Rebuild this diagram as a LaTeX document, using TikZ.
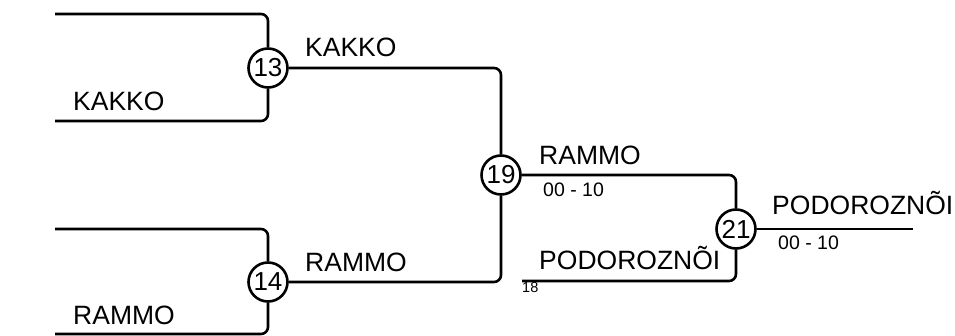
\documentclass[tikz,border=0pt]{standalone}
\usepackage{fontspec}
\setmainfont{Liberation Sans}
\usetikzlibrary{positioning}

\begin{document}
\begin{tikzpicture}[x=1pt, y=-1pt,
    m/.style={circle, draw, line width=2.6pt, inner sep=0pt,
              minimum size=39pt, font=\fontsize{26}{26}\selectfont},
    wire/.style={line width=2.6pt, rounded corners=7pt},
    team/.style={anchor=base west, inner sep=0pt, font=\fontsize{26.5}{27}\selectfont},
    score/.style={anchor=base west, inner sep=0pt, font=\fontsize{19.5}{20}\selectfont}
  ]
  \useasboundingbox (0,0) rectangle (955,336);
  % -- match 13 --
  \node[m] (m13) at (268,68) {13};
  \coordinate (a13) at (55,14);
  \coordinate (b13) at (55,121);
  \draw[wire] (a13) -| (m13);
  \draw[wire] (b13) -| (m13);
  \node[team] (t13) at (73,111) {KAKKO};
  % -- match 14 --
  \node[m] (m14) at (268,282) {14};
  \coordinate (a14) at (55,229);
  \coordinate (b14) at (55,334);
  \draw[wire] (a14) -| (m14);
  \draw[wire] (b14) -| (m14);
  \node[team] (t14) at (73,325) {RAMMO};
  % -- match 19 --
  \node[m] (m19) at (501,175) {19};
  \draw[wire] (m13) -| (m19);
  \draw[wire] (m14) -| (m19);
  \node[team] (w13) at (305,57) {KAKKO};
  \node[team] (w14) at (305,272) {RAMMO};
  % -- match 21 --
  \node[m] (m21) at (736,229) {21};
  \coordinate (a21) at (522,281);
  \coordinate (f21) at (913,229);
  \draw[wire] (m19) -| (m21);
  \draw[wire] (a21) -| (m21);
  \draw[wire] (m21) -- (f21);
  \node[team] (w19) at (539,165) {RAMMO};
  \node[score] (s19) at (543,197) {00 - 10};
  \node[team] (t21) at (539,270) {PODOROZNÕI};
  \node[anchor=base west, inner sep=0pt, font=\fontsize{14.5}{15}\selectfont] (n18) at (522,293) {18};
  \node[team] (w21) at (772,215) {PODOROZNÕI};
  \node[score] (s21) at (778,250) {00 - 10};
\end{tikzpicture}
\end{document}
